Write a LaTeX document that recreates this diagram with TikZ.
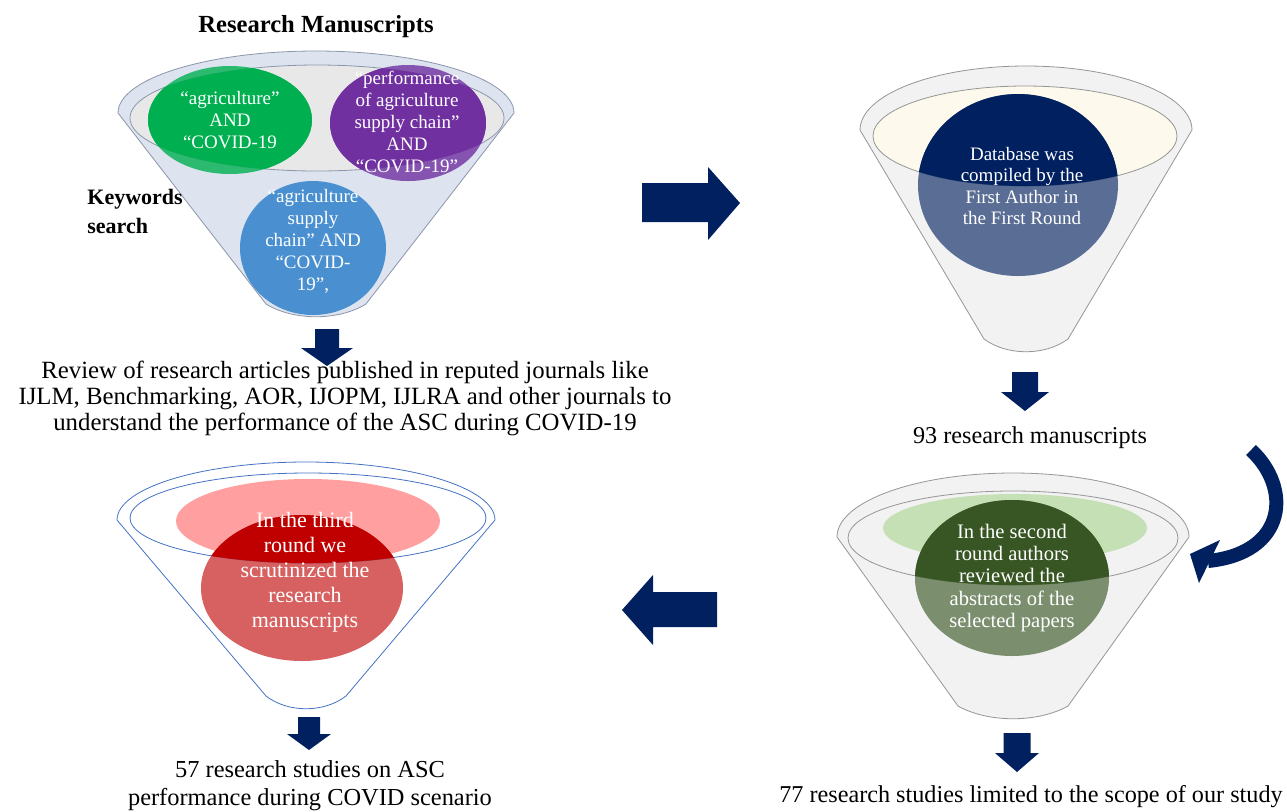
\documentclass[tikz,border=0pt]{standalone}
\usepackage{fontspec}
\setmainfont{Liberation Serif}
\definecolor{arrow navy}{RGB}{0,32,96}
\definecolor{kw body}{RGB}{221,228,240}
\definecolor{kw edge}{RGB}{140,150,170}
\definecolor{kw inner}{RGB}{232,232,232}
\definecolor{kw green}{RGB}{0,176,80}
\definecolor{kw purple}{RGB}{112,48,160}
\definecolor{kw blue}{RGB}{74,144,208}
\definecolor{db cream}{RGB}{253,249,236}
\definecolor{grey body}{RGB}{242,242,242}
\definecolor{grey edge}{RGB}{150,150,150}
\definecolor{sr light}{RGB}{197,224,180}
\definecolor{sr dark}{RGB}{55,86,35}
\definecolor{tr pink}{RGB}{255,159,159}
\definecolor{tr red}{RGB}{192,0,0}
\definecolor{tr edge}{RGB}{68,114,196}
\newcommand\funnelpath[6]{(#1-#3,#2) arc[start angle=180,end angle=360,x radius=#3,y radius=#4] -- (#1+#5,#6-14) .. controls (#1+#5*0.45,#6+3) and (#1-#5*0.45,#6+3) .. (#1-#5,#6-14) -- cycle}
\newcommand\downblock[6]{(#1-#5,#2) -- (#1+#5,#2) -- (#1+#5,#3) -- (#1+#6,#3) -- (#1,#4) -- (#1-#6,#3) -- (#1-#5,#3) -- cycle}
\def\kwfunnel{\funnelpath{316}{113}{198}{62}{50}{318}}
\def\kwinner{(317,118) ellipse [x radius=187, y radius=53]}
\def\kwgreen{(230,120) ellipse [x radius=82, y radius=54]}
\def\kwpurple{(408,123) ellipse [x radius=78, y radius=58]}
\def\kwblue{(313,248) ellipse [x radius=73, y radius=67]}
\def\dbfunnel{\funnelpath{1026}{130}{166}{64}{42}{353}}
\def\dbinner{(1025,136) ellipse [x radius=152, y radius=50]}
\def\dbcircle{(1018,185) ellipse [x radius=100, y radius=91]}
\def\srfunnel{\funnelpath{1013}{537}{176}{64}{55}{720}}
\def\srinner{(1013,538) ellipse [x radius=165, y radius=47]}
\def\srlight{(1015,528) ellipse [x radius=132, y radius=34]}
\def\srcircle{(1012,578) ellipse [x radius=97, y radius=78]}
\def\trfunnel{\funnelpath{306}{520}{189}{58}{40}{710}}
\def\trinner{(308,518) ellipse [x radius=178, y radius=45]}
\def\trpink{(308,521) ellipse [x radius=132, y radius=42]}
\def\trcircle{(302,588) ellipse [x radius=101, y radius=73]}
\tikzset{
  kwshape/.style={fill=kw body, draw=kw edge, thin},
  kwrim/.style={fill=kw inner, draw=kw edge, thin},
  greyshape/.style={fill=grey body, draw=grey edge, thin},
  creamrim/.style={fill=db cream, draw=grey edge, thin},
  blueline/.style={fill=white, draw=tr edge, thin},
  blockarrow/.style={fill=arrow navy},
  circtext/.style={text=white, align=center, inner sep=0pt, font=\fontsize{9.5}{11}\selectfont},
  plaintext/.style={align=center, inner sep=0pt, font=\fontsize{12.1}{13}\selectfont}
}

\begin{document}
\begin{tikzpicture}[x=0.5pt, y=-0.5pt]
    \useasboundingbox (0,0) rectangle (1287,811);
    \fill[white] (0,0) rectangle (1287,811);
    % keywords funnel
    \draw[kwshape] \kwfunnel;
    \draw[kwrim] \kwinner;
    \fill[kw green, fill opacity=0.8] \kwgreen;
    \fill[kw purple, fill opacity=0.8] \kwpurple;
    \begin{scope}
      \clip \kwinner;
      \fill[kw green] \kwgreen;
      \fill[kw purple] \kwpurple;
    \end{scope}
    \fill[kw blue] \kwblue;
    \node[circtext] (kwa) at (230,120) {“agriculture”\\AND\\“COVID-19};
    \node[circtext] (kwb) at (407,122) {“performance\\of agriculture\\supply chain”\\AND\\“COVID-19”};
    \node[circtext] (kwc) at (313,241) {“agriculture\\supply\\chain” AND\\“COVID-\\19”,};
    \node[font=\fontsize{12.3}{14}\selectfont\bfseries, inner sep=0pt] (title) at (316,27) {Research Manuscripts};
    \node[font=\fontsize{11}{14.5}\selectfont\bfseries, align=left, inner sep=0pt, anchor=west] (kwlabel) at (87,211) {Keywords\\search};
    \fill[blockarrow] \downblock{327}{329}{348}{366}{12}{26};
    \node[plaintext, font=\fontsize{12.4}{13}\selectfont] (review) at (345,398) {Review of research articles published in reputed journals like\\IJLM, Benchmarking, AOR, IJOPM, IJLRA and other journals to\\understand the performance of the ASC during COVID-19};
    % first round funnel
    \draw[greyshape] \dbfunnel;
    \draw[creamrim] \dbinner;
    \fill[arrow navy, fill opacity=0.63] \dbcircle;
    \begin{scope}
      \clip \dbinner;
      \fill[arrow navy] \dbcircle;
    \end{scope}
    \node[circtext, font=\fontsize{9.5}{10.8}\selectfont] (dbtext) at (1022,186) {Database was\\compiled by the\\First Author in\\the First Round};
    \fill[blockarrow] (642,183) -- (708,183) -- (708,167) -- (740,203) -- (708,240) -- (708,222) -- (642,222) -- cycle;
    \fill[blockarrow] \downblock{1025}{372}{392}{411}{13}{24};
    \node[plaintext] (ninetythree) at (1030,438) {93 research manuscripts};
    % second round funnel
    \draw[greyshape] \srfunnel;
    \draw[greyshape] \srinner;
    \fill[sr light] \srlight;
    \fill[sr dark, fill opacity=0.63] \srcircle;
    \begin{scope}
      \clip \srinner;
      \fill[sr dark] \srcircle;
    \end{scope}
    \node[circtext, font=\fontsize{10.3}{11.2}\selectfont] (srtext) at (1012,578) {In the second\\round authors\\reviewed the\\abstracts of the\\selected papers};
    \draw[arrow navy, line width=7pt] (1251,450) .. controls (1292,488) and (1287,553) .. (1208,561);
    \fill[blockarrow] (1220,540) -- (1190,554) -- (1199,583) -- cycle;
    \fill[blockarrow] \downblock{1017}{733}{753}{772}{13.5}{22};
    \node[plaintext] (seventyseven) at (1031,797) {77 research studies limited to the scope of our study};
    \fill[blockarrow] (717,592) -- (653,592) -- (653,575) -- (622,610) -- (653,645) -- (653,627) -- (717,627) -- cycle;
    % third round funnel
    \draw[blueline] \trfunnel;
    \draw[blueline] \trinner;
    \fill[tr pink] \trpink;
    \fill[tr red, fill opacity=0.62] \trcircle;
    \begin{scope}
      \clip \trinner;
      \fill[tr red] \trcircle;
    \end{scope}
    \node[circtext, font=\fontsize{11}{12.5}\selectfont] (trtext) at (305,572) {In the third\\round we\\scrutinized the\\research\\manuscripts};
    \fill[blockarrow] \downblock{309}{717}{734}{750}{11}{22};
    \node[plaintext, font=\fontsize{12.2}{14}\selectfont] (fiftyseven) at (310,786) {57 research studies on ASC\\performance during COVID scenario};
\end{tikzpicture}
\end{document}
